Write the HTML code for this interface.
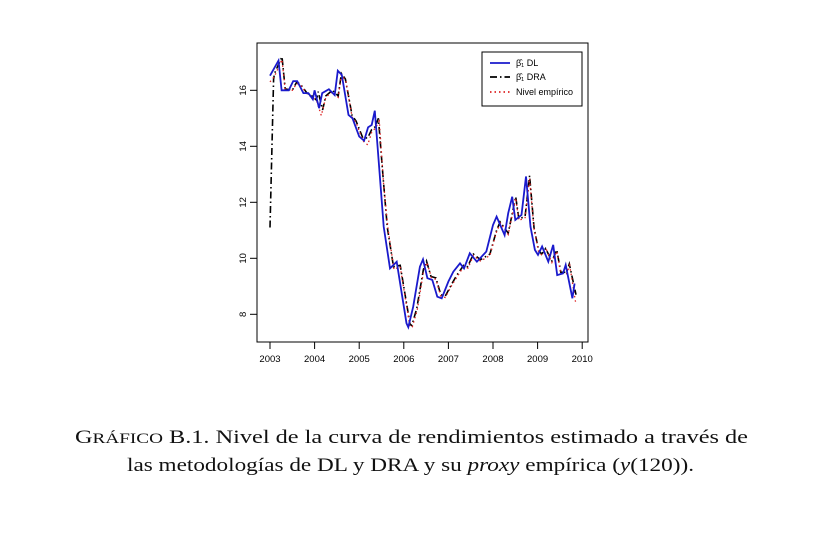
<!DOCTYPE html>
<html><head><meta charset="utf-8"><style>
body{margin:0;background:#fff;}
svg{display:block;font-family:"Liberation Sans",sans-serif;}
</style></head><body>
<svg width="837" height="545" viewBox="0 0 837 545">
<rect width="837" height="545" fill="#fff"/>
<g id="plot"></g>
<g font-family="'Liberation Serif',serif" font-size="19" fill="#111">
<text x="75" y="443" textLength="673" lengthAdjust="spacingAndGlyphs">G<tspan font-size="15">RÁFICO</tspan> B.1.  Nivel de la curva de rendimientos estimado a través de</text>
<text x="127" y="471" textLength="567" lengthAdjust="spacingAndGlyphs">las metodologías de DL y DRA y su <tspan font-style="italic">proxy</tspan> empírica (<tspan font-style="italic">y</tspan>(120)).</text>
</g>
</svg>
<script>
const dlDates=[2003.0,2003.19,2003.26,2003.42,2003.52,2003.61,2003.75,2003.86,2003.96,2004.0,2004.1,2004.17,2004.32,2004.45,2004.52,2004.61,2004.76,2004.85,2005.0,2005.11,2005.2,2005.28,2005.35,2005.46,2005.55,2005.69,2005.84,2006.06,2006.1,2006.21,2006.36,2006.43,2006.53,2006.64,2006.75,2006.85,2007.0,2007.11,2007.26,2007.35,2007.48,2007.64,2007.85,2008.0,2008.08,2008.26,2008.34,2008.43,2008.5,2008.64,2008.74,2008.84,2008.94,2009.01,2009.1,2009.24,2009.35,2009.44,2009.57,2009.63,2009.78,2009.83];
const dlValues=[16.52,17.06,16.0,16.0,16.33,16.33,15.9,15.9,15.68,16.0,15.36,15.9,16.04,15.83,16.7,16.55,15.12,15.0,14.35,14.2,14.68,14.76,15.27,13.0,11.13,9.64,9.88,7.68,7.54,8.27,9.7,9.96,9.29,9.23,8.63,8.57,9.17,9.52,9.82,9.64,10.18,9.88,10.24,11.19,11.49,10.83,11.61,12.2,11.37,11.55,12.92,11.13,10.3,10.12,10.42,9.88,10.48,9.4,9.46,9.76,8.57,9.1];
const draDates=[2003.0,2003.08,2003.1,2003.27,2003.34,2003.5,2003.6,2003.69,2003.83,2003.94,2004.04,2004.08,2004.18,2004.25,2004.4,2004.53,2004.6,2004.69,2004.84,2004.93,2005.08,2005.19,2005.28,2005.36,2005.43,2005.54,2005.63,2005.77,2005.92,2006.14,2006.18,2006.29,2006.44,2006.51,2006.61,2006.72,2006.83,2006.93,2007.08,2007.19,2007.34,2007.43,2007.56,2007.72,2007.93,2008.08,2008.16,2008.34,2008.42,2008.51,2008.58,2008.72,2008.82,2008.92,2009.02,2009.09,2009.18,2009.32,2009.43,2009.52,2009.65,2009.71,2009.86];
const draValues=[11.1,16.4,16.6,17.2,16.05,16.0,16.3,16.2,15.9,15.8,15.65,15.95,15.3,15.8,16.0,15.8,16.6,16.4,15.1,14.9,14.3,14.3,14.6,14.7,15.0,12.8,11.1,9.7,9.75,7.65,7.6,8.2,9.6,9.9,9.35,9.3,8.7,8.65,9.1,9.4,9.75,9.7,10.15,9.95,10.15,11.0,11.3,10.9,11.5,12.2,11.4,11.5,12.95,11.1,10.3,10.15,10.35,9.9,10.3,9.5,9.5,9.8,8.7];
const empDates=[2003.0,2003.1,2003.27,2003.34,2003.5,2003.6,2003.7,2003.84,2003.95,2004.05,2004.15,2004.25,2004.4,2004.53,2004.6,2004.7,2004.84,2004.93,2005.08,2005.19,2005.28,2005.36,2005.45,2005.55,2005.65,2005.78,2005.92,2006.14,2006.19,2006.3,2006.44,2006.52,2006.62,2006.72,2006.83,2006.93,2007.08,2007.2,2007.34,2007.44,2007.56,2007.72,2007.93,2008.08,2008.17,2008.34,2008.42,2008.51,2008.58,2008.72,2008.82,2008.92,2009.02,2009.1,2009.2,2009.32,2009.43,2009.52,2009.65,2009.72,2009.85];
const empValues=[16.3,16.5,17.1,16.0,16.0,16.25,16.15,15.85,15.75,15.6,15.1,15.75,15.95,15.75,16.55,16.35,15.05,14.85,14.2,14.05,14.5,14.65,14.9,12.6,11.0,9.6,9.7,7.55,7.55,8.15,9.5,9.85,9.3,9.25,8.65,8.6,9.05,9.35,9.7,9.65,10.1,9.9,10.1,10.95,11.25,10.85,11.45,12.15,11.35,11.45,12.85,11.05,10.25,10.1,10.3,9.85,10.25,9.45,9.45,9.75,8.45];
const xTicks=[2003,2004,2005,2006,2007,2008,2009,2010];
const yTicks=[8,10,12,14,16];

const NS='http://www.w3.org/2000/svg';
const g=document.getElementById('plot');
const X=v=>270+(v-2003)*44.6;
const Y=v=>90.3-(v-16)*28;
function mk(t,a){const e=document.createElementNS(NS,t);for(const k in a)e.setAttribute(k,a[k]);g.appendChild(e);return e;}
let box=mk('rect',{x:257,y:43,width:331,height:299,fill:'none',stroke:'#000','stroke-width':1});


xTicks.forEach(t=>{
 let l=mk('line',{x1:X(t),x2:X(t),y1:342,y2:349,stroke:'#000'});
 
 
 let s=mk('text',{x:X(t),y:362,'font-size':9.5,'text-anchor':'middle'});s.textContent=t;
 
 
});
yTicks.forEach(t=>{
 let l=mk('line',{x1:250,x2:257,y1:Y(t),y2:Y(t),stroke:'#000'});
 
 
 let s=mk('text',{x:246,y:Y(t),'font-size':9.5,'text-anchor':'middle',transform:`rotate(-90 246 ${Y(t)})`});s.textContent=t;
 
 
});
function pts(d,v){return d.map((x,i)=>X(x).toFixed(1)+','+Y(v[i]).toFixed(1)).join(' ');}
let p1=mk('polyline',{points:pts(draDates,draValues),fill:'none',stroke:'#000','stroke-width':1.6,'stroke-dasharray':'7,3,1.5,3'});


let p2=mk('polyline',{points:pts(empDates,empValues),fill:'none',stroke:'#d22','stroke-width':1.3,'stroke-dasharray':'1.5,3'});


let p0=mk('polyline',{points:pts(dlDates,dlValues),fill:'none',stroke:'#1a1acc','stroke-width':1.8});


// legend
let lg=mk('rect',{x:482,y:52,width:100,height:54,fill:'#fff',stroke:'#000'});


const leg=[['#1a1acc','','β̂₁ DL',66],['#000','7,3,1.5,3','β̂₁ DRA',80],['#d22','1.5,3','Nivel empírico',95]];
leg.forEach(r=>{
 let l=mk('line',{x1:490,x2:510,y1:r[3]-3,y2:r[3]-3,stroke:r[0],'stroke-width':1.8,'stroke-dasharray':r[1]||'none'});
 
 
 let s=mk('text',{x:516,y:r[3],'font-size':9});s.textContent=r[2];
 
 
});
</script>
</body></html>
